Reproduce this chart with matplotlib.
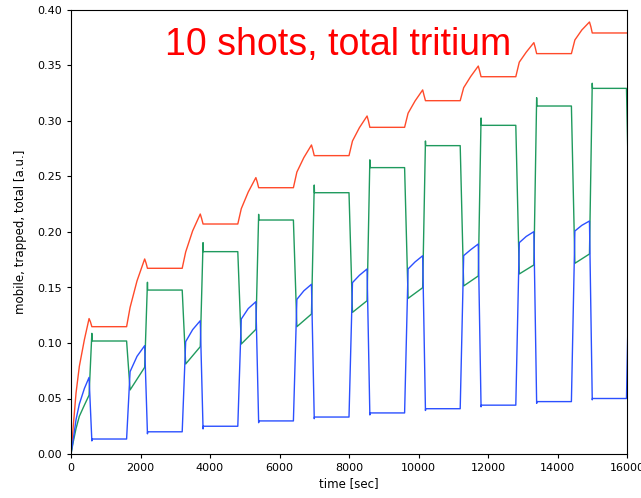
import matplotlib.pyplot as plt

# values, one entry per shot
shot_period = 1600
shot_starts = [0, 1600, 3200, 4800, 6400, 8000, 9600, 11200, 12800, 14400]

# first shot starts from zero and is curved
first_t = [0, 65, 145, 240, 385, 520]
first_mobile = [0.0, 0.013, 0.031, 0.045, 0.059, 0.069]
first_trapped = [0.0, 0.011, 0.023, 0.034, 0.044, 0.053]
first_total = [0.0, 0.025, 0.055, 0.079, 0.103, 0.122]

# mobile (blue)
mobile_start = [0.0, 0.0742, 0.1012, 0.1216, 0.1393, 0.1544, 0.1667, 0.1787, 0.1904, 0.2009]
mobile_mid = [0.0, 0.088, 0.112, 0.131, 0.147, 0.161, 0.173, 0.184, 0.196, 0.206]
mobile_end = [0.069, 0.0976, 0.1201, 0.1372, 0.1529, 0.1667, 0.1786, 0.1892, 0.2003, 0.2099]
mobile_dip = [0.0118, 0.0182, 0.0226, 0.0282, 0.0318, 0.0352, 0.0392, 0.0425, 0.0456, 0.0488]
mobile_rest = [0.0135, 0.0200, 0.0250, 0.0298, 0.0333, 0.0370, 0.0408, 0.0440, 0.0472, 0.0500]

# trapped (green)
trapped_start = [0.0, 0.0577, 0.0811, 0.0991, 0.1147, 0.1276, 0.1402, 0.1514, 0.1622, 0.1718]
trapped_end = [0.0532, 0.0781, 0.0967, 0.1123, 0.1261, 0.1381, 0.1498, 0.1604, 0.1703, 0.1802]
trapped_spike = [0.1087, 0.1547, 0.1904, 0.2159, 0.2423, 0.2650, 0.2820, 0.3027, 0.3210, 0.3340]
trapped_rest = [0.1018, 0.1477, 0.1823, 0.2108, 0.2354, 0.2580, 0.2778, 0.2961, 0.3135, 0.3294]

# total (red)
total_start = [0.0, 0.132, 0.182, 0.221, 0.254, 0.282, 0.307, 0.330, 0.353, 0.373]
total_mid = [0.0, 0.156, 0.201, 0.236, 0.267, 0.294, 0.318, 0.340, 0.362, 0.382]
total_peak = [0.1222, 0.1757, 0.2162, 0.2490, 0.2784, 0.3045, 0.3280, 0.3495, 0.3706, 0.3892]
total_dip = [0.119, 0.172, 0.212, 0.245, 0.274, 0.300, 0.323, 0.345, 0.366, 0.385]
total_rest = [0.1147, 0.1673, 0.2072, 0.2399, 0.2688, 0.2943, 0.3183, 0.3399, 0.3607, 0.3793]

# start of the 11th shot, just visible at the right edge
mobile_next = 0.21
trapped_next = 0.18


def build_series():
    tm, m = list(first_t), list(first_mobile)
    tg, g = list(first_t), list(first_trapped)
    tr, r = list(first_t), list(first_total)
    for k, t0 in enumerate(shot_starts):
        if k > 0:
            tm += [t0 + 100, t0 + 300, t0 + 520]
            m += [mobile_start[k], mobile_mid[k], mobile_end[k]]
            tg += [t0 + 100, t0 + 520]
            g += [trapped_start[k], trapped_end[k]]
            tr += [t0 + 100, t0 + 300, t0 + 520]
            r += [total_start[k], total_mid[k], total_peak[k]]
        t_end = t0 + shot_period if k < len(shot_starts) - 1 else t0 + shot_period - 15
        tm += [t0 + 600, t0 + 606, t_end]
        m += [mobile_dip[k], mobile_rest[k], mobile_rest[k]]
        tg += [t0 + 600, t0 + 606, t_end]
        g += [trapped_spike[k], trapped_rest[k], trapped_rest[k]]
        tr += [t0 + 560, t0 + 600, t_end]
        r += [total_dip[k], total_rest[k], total_rest[k]]
    tm.append(16085)
    m.append(mobile_next)
    tg.append(16085)
    g.append(trapped_next)
    tr.append(16100)
    r.append(total_rest[-1])
    return (tm, m), (tg, g), (tr, r)


(tm, m), (tg, g), (tr, r) = build_series()

plt.rcParams['font.size'] = 8.5
plt.rcParams['xtick.labelsize'] = 8
plt.rcParams['ytick.labelsize'] = 8
plt.rcParams['xtick.major.size'] = 3
plt.rcParams['ytick.major.size'] = 3

fig = plt.figure(figsize=(6.41, 4.98), dpi=100)
ax = fig.add_axes([71 / 641, 44 / 498, 556 / 641, 444 / 498])
ax.plot(tr, r, color='#ff4a2a', lw=1.0)
ax.plot(tg, g, color='#1f9a5e', lw=1.0)
ax.plot(tm, m, color='#2b50ff', lw=1.0)

ax.set_xlim(0, 16000)
ax.set_ylim(0, 0.40)
ax.set_xlabel('time [sec]', labelpad=3)
ax.set_ylabel('mobile, trapped, total [a.u.]', labelpad=7)
ax.text(2700, 0.3595, '10 shots, total tritium', color='red', fontsize=27,
        family='Liberation Sans', ha='left', va='baseline')

plt.savefig('out.png', dpi=100)
